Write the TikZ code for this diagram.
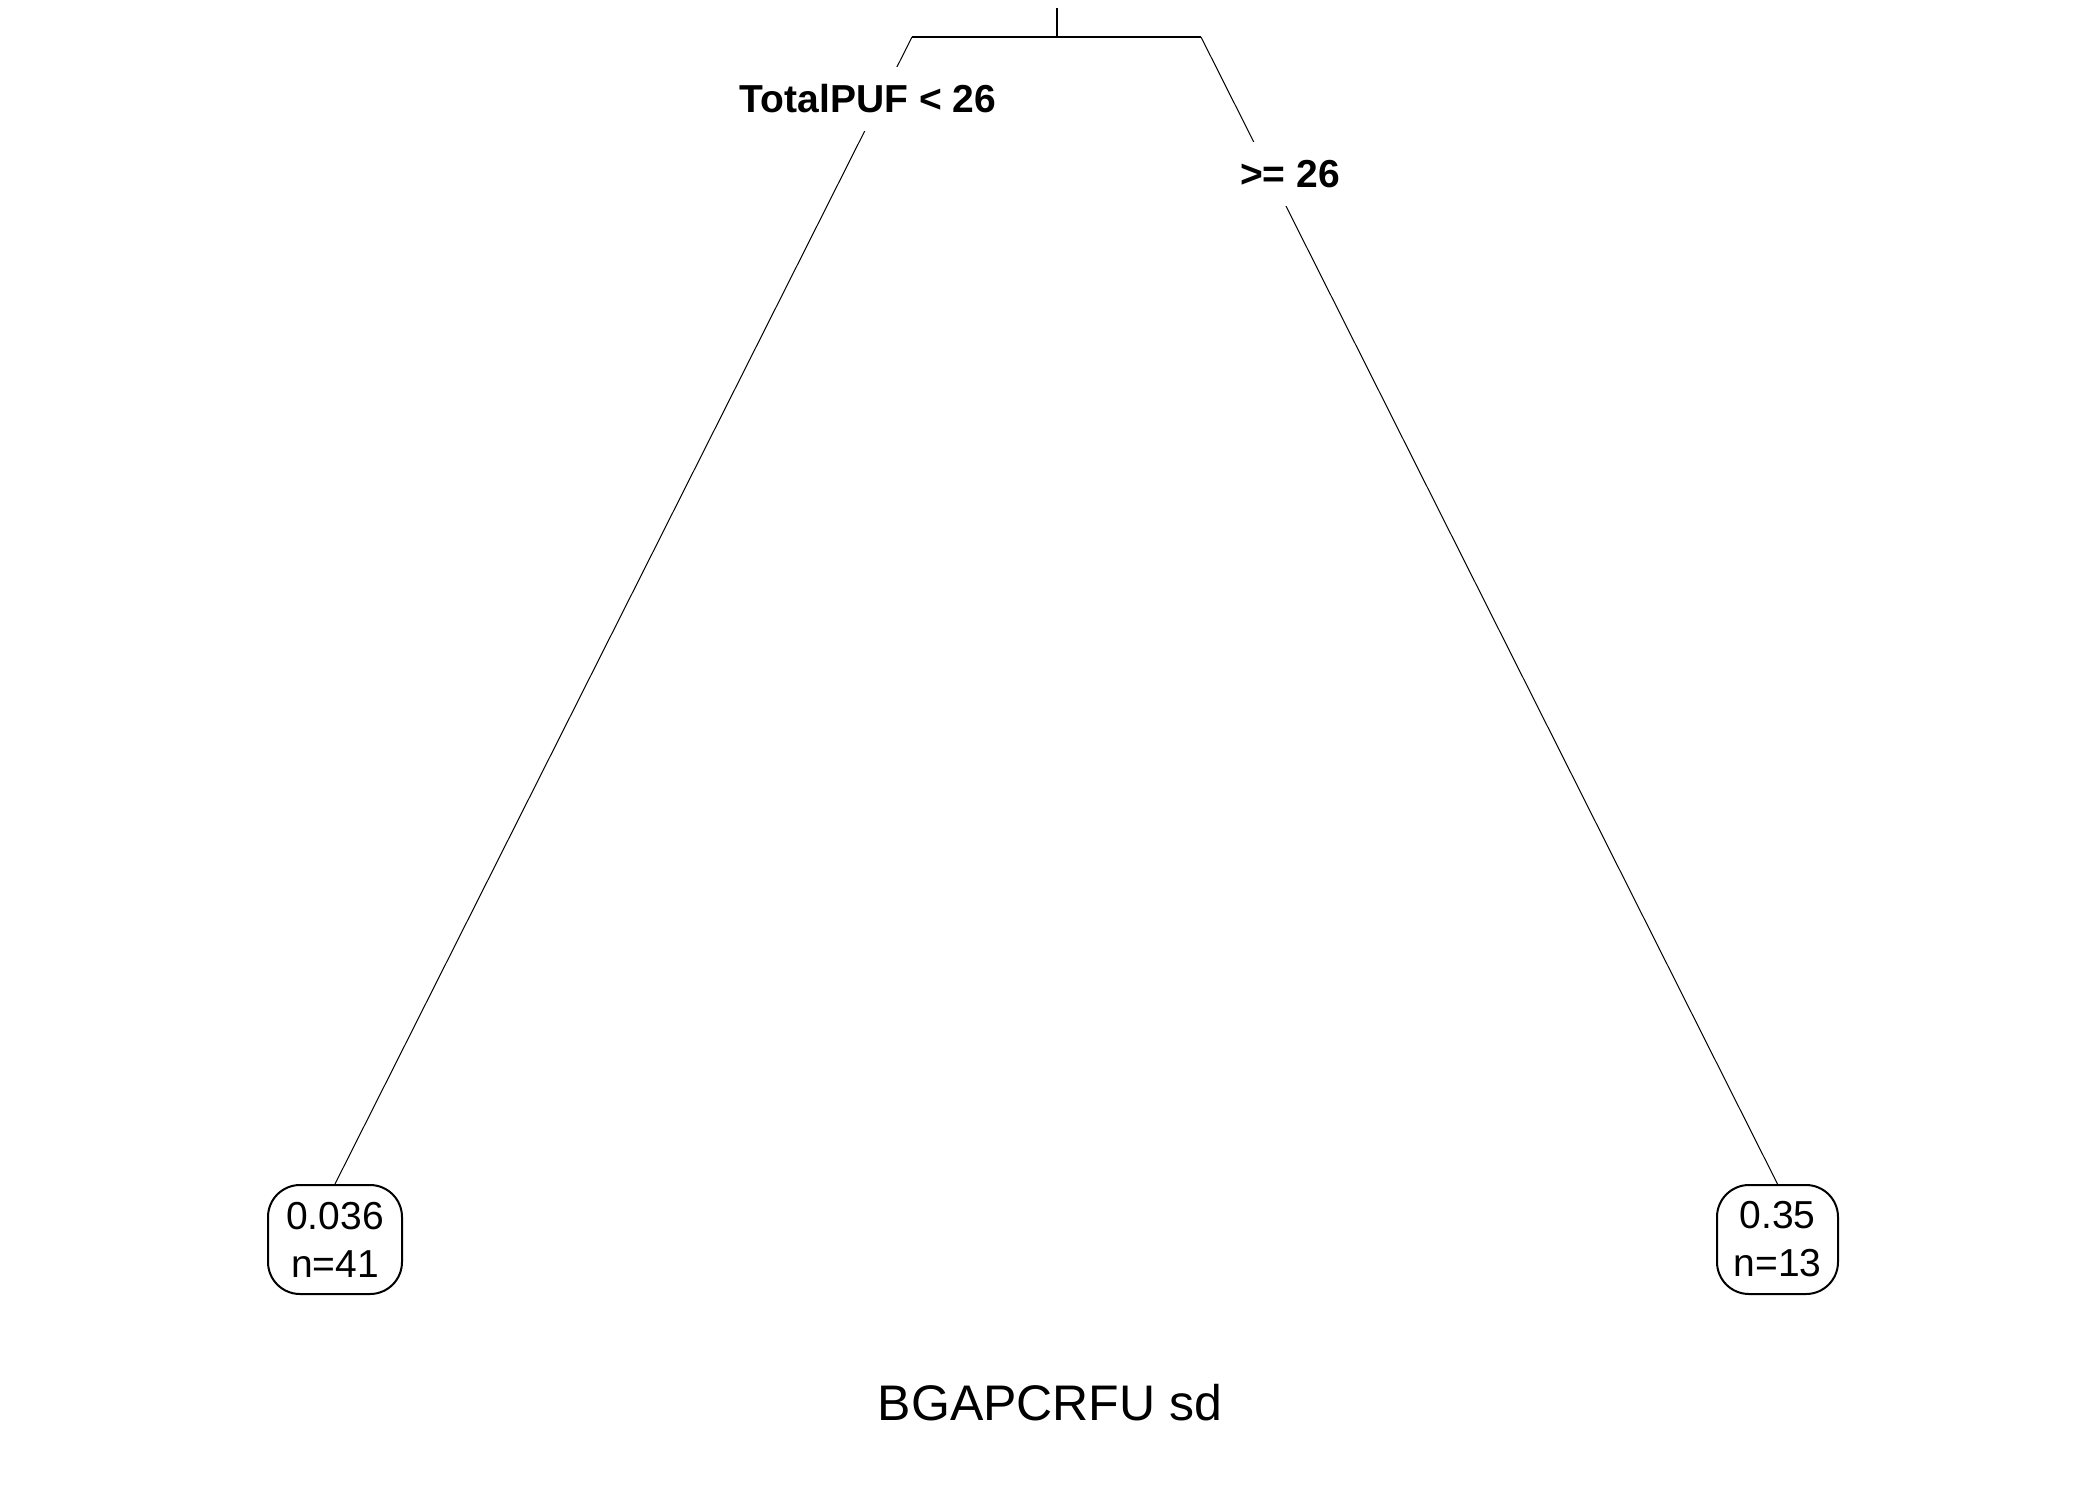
\documentclass[tikz,border=0pt]{standalone}
\usepackage{fontspec}
\setmainfont{Liberation Sans}
\begin{document}
\begin{tikzpicture}[x=0.5pt,y=-0.5pt,
  thinline/.style={line width=0.5pt},
  barline/.style={line width=1pt},
  splitlab/.style={fill=white,inner xsep=2pt,inner ysep=0pt,minimum height=32pt,font=\fontsize{19.5}{24}\selectfont\bfseries},
  leafbox/.style={draw,line width=1pt,rounded corners=16pt,minimum height=54.5pt,align=center,inner sep=0pt,font=\fontsize{19.5}{24}\selectfont},
  titlelab/.style={font=\fontsize{25}{30}\selectfont}]
\useasboundingbox (0,0) rectangle (2100,1500);
\coordinate (root) at (1057,8);
\coordinate (rs) at (1057,37);
\coordinate (sl) at (912,37);
\coordinate (sr) at (1201,37);
\node[leafbox,minimum width=67pt] (L) at (335,1239.5) {0.036\\n=41};
\node[leafbox,minimum width=60.5pt] (R) at (1777.5,1239.5) {0.35\\n=13};
\draw[barline] (root) -- (rs);
\draw[barline] (sl) -- (sr);
\draw[thinline] (sl) -- (L.north);
\draw[thinline] (sr) -- (R.north);
\node[splitlab] (lab1) at (868,99) {TotalPUF < 26};
\node[splitlab] (lab2) at (1290,174) {>= 26};
\node[titlelab] (title) at (1050,1403) {BGAPCRFU sd};
\end{tikzpicture}
\end{document}
